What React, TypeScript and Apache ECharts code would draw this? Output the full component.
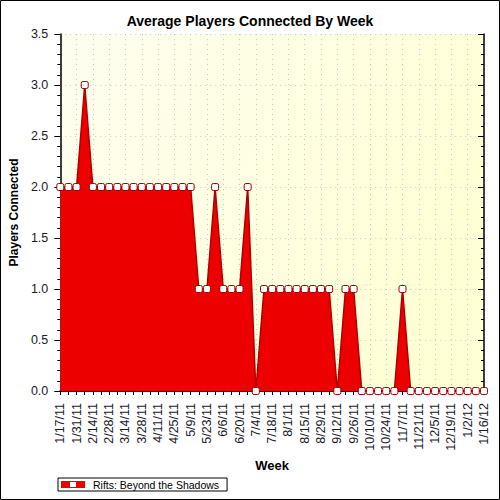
import React, { useEffect, useRef } from "react";
import * as echarts from "echarts";

const weeks = [
  "1/17/11", "1/24/11", "1/31/11", "2/7/11", "2/14/11", "2/21/11", "2/28/11",
  "3/7/11", "3/14/11", "3/21/11", "3/28/11", "4/4/11", "4/11/11", "4/18/11",
  "4/25/11", "5/2/11", "5/9/11", "5/16/11", "5/23/11", "5/30/11", "6/6/11",
  "6/13/11", "6/20/11", "6/27/11", "7/4/11", "7/11/11", "7/18/11", "7/25/11",
  "8/1/11", "8/8/11", "8/15/11", "8/22/11", "8/29/11", "9/5/11", "9/12/11",
  "9/19/11", "9/26/11", "10/3/11", "10/10/11", "10/17/11", "10/24/11",
  "10/31/11", "11/7/11", "11/14/11", "11/21/11", "11/28/11", "12/5/11",
  "12/12/11", "12/19/11", "12/26/11", "1/2/12", "1/9/12", "1/16/12",
];

const players = [
  2, 2, 2, 3, 2, 2, 2, 2, 2, 2, 2, 2, 2, 2, 2, 2, 2, 1, 1, 2, 1, 1, 1, 2, 0,
  1, 1, 1, 1, 1, 1, 1, 1, 1, 0, 1, 1, 0, 0, 0, 0, 0, 1, 0, 0, 0, 0, 0, 0, 0,
  0, 0, 0,
];

const seriesName = "Rifts: Beyond the Shadows";
const titleText = "Average Players Connected By Week";

export default function App() {
  const ref = useRef<HTMLDivElement>(null);
  useEffect(() => {
    document.body.style.margin = "0";
    if (!ref.current) return;
    const chart = echarts.init(ref.current, undefined, { renderer: "svg" });
    const font = "'Liberation Sans', Arial, sans-serif";
    chart.setOption({
      animation: false,
      backgroundColor: "#ffffff",
      textStyle: { fontFamily: font },
      title: {
        text: titleText,
        left: "center",
        top: 9,
        textStyle: { fontSize: 14, fontWeight: "bold", color: "#000", fontFamily: font },
      },
      graphic: [
        {
          type: "rect",
          shape: { x: 0.5, y: 0.5, width: 499, height: 499 },
          style: { fill: "none", stroke: "#000", lineWidth: 1 },
          silent: true,
        },
      ],
      legend: {
        left: 58,
        top: 478,
        orient: "horizontal",
        itemWidth: 24,
        itemHeight: 7,
        itemGap: 4,
        borderColor: "#000",
        borderWidth: 1,
        padding: [1, 8, 1, 3],
        borderRadius: 0,
        textStyle: { fontSize: 10.5, color: "#000", fontFamily: font, padding: [0, 0, 0, 3] },
        data: [
          {
            name: seriesName,
            icon: "path://M0,0H24V7H0Z M9,1V6H15V1Z",
            itemStyle: { color: "#ec0000", borderColor: "#a00000", borderWidth: 0 },
          },
        ],
      },
      grid: {
        left: 60,
        right: 16,
        top: 34,
        bottom: 109,
        show: true,
        borderWidth: 0,
        backgroundColor: {
          type: "linear",
          x: 0,
          y: 0,
          x2: 1,
          y2: 0.4,
          colorStops: [
            { offset: 0, color: "#fefef0" },
            { offset: 1, color: "#ffffd6" },
          ],
        },
      },
      xAxis: [
        {
          type: "category",
          data: weeks,
          boundaryGap: false,
          position: "bottom",
          name: "Week",
          nameLocation: "middle",
          nameGap: 66,
          nameTextStyle: { fontSize: 13, fontWeight: "bold", color: "#000", fontFamily: font },
          axisLine: { show: true, lineStyle: { color: "#000", width: 1.5 } },
          axisTick: { show: true, interval: 0, length: 4, lineStyle: { color: "#000" } },
          axisLabel: {
            interval: 1,
            rotate: 90,
            margin: 12,
            fontSize: 12.5,
            color: "#1a1a2a",
            fontFamily: font,
          },
          splitLine: {
            show: true,
            interval: 1,
            lineStyle: { type: [1, 4], color: "#c8c8c8", width: 1 },
          },
        },
        {
          type: "category",
          data: weeks,
          boundaryGap: false,
          position: "top",
          axisLine: { show: true, lineStyle: { color: "#000", width: 1.5 } },
          axisTick: { show: true, interval: 0, inside: true, length: 4, lineStyle: { color: "#000" } },
          axisLabel: { show: false },
          splitLine: { show: false },
        },
      ],
      yAxis: [
        {
          type: "value",
          min: 0,
          max: 3.5,
          interval: 0.5,
          position: "left",
          name: "Players Connected",
          nameLocation: "middle",
          nameGap: 40,
          nameTextStyle: { fontSize: 12, fontWeight: "bold", color: "#000", fontFamily: font },
          axisLine: { show: true, lineStyle: { color: "#000", width: 1.5 } },
          axisTick: { show: true, length: 6, lineStyle: { color: "#000" } },
          minorTick: { show: true, splitNumber: 5, length: 3, lineStyle: { color: "#000" } },
          axisLabel: {
            margin: 12,
            fontSize: 12.5,
            color: "#1a1a2a",
            fontFamily: font,
            formatter: (v: number) => v.toFixed(1),
          },
          splitLine: {
            show: true,
            lineStyle: { type: [1, 4], color: "#c8c8c8", width: 1 },
          },
        },
        {
          type: "value",
          min: 0,
          max: 3.5,
          interval: 0.5,
          position: "right",
          axisLine: { show: true, lineStyle: { color: "#000", width: 1.5 } },
          axisTick: { show: true, inside: true, length: 6, lineStyle: { color: "#000" } },
          minorTick: { show: true, splitNumber: 5, length: 3, lineStyle: { color: "#000" } },
          axisLabel: { show: false },
          splitLine: { show: false },
        },
      ],
      series: [
        {
          name: seriesName,
          type: "line",
          data: players,
          xAxisIndex: 0,
          yAxisIndex: 0,
          symbol: "roundRect",
          symbolSize: 7,
          showAllSymbol: true,
          lineStyle: { color: "#b00000", width: 1.5 },
          itemStyle: { color: "#ffffff", borderColor: "#a00000", borderWidth: 1 },
          areaStyle: { color: "#ec0000", opacity: 1 },
          z: 3,
        },
      ],
    });
    return () => chart.dispose();
  }, []);
  return <div ref={ref} style={{ width: 500, height: 500 }} />;
}
